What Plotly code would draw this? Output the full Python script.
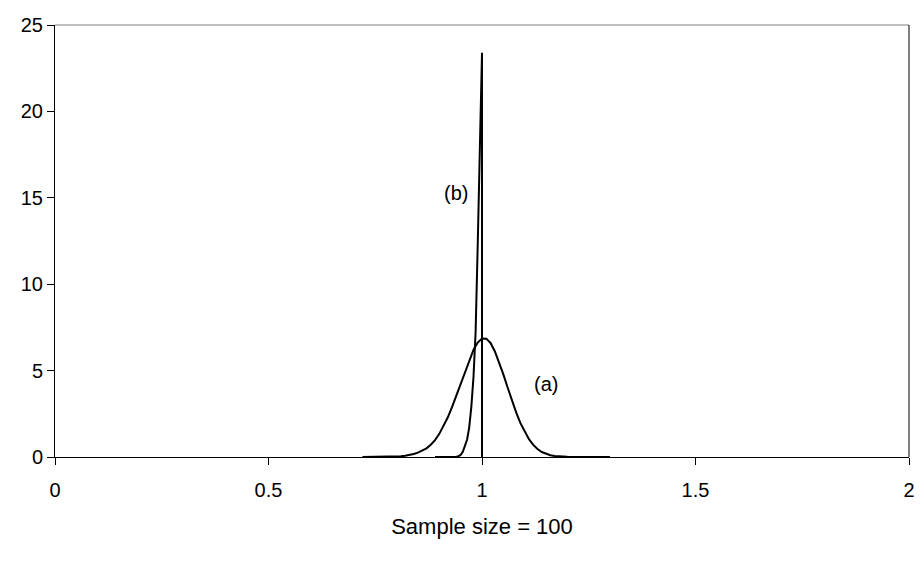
import plotly.graph_objects as go

# Curve (a)
a_x = [0.72, 0.73, 0.74, 0.75, 0.76, 0.77, 0.78, 0.79, 0.80, 0.81,
       0.82, 0.83, 0.84, 0.85, 0.86, 0.87, 0.88, 0.89, 0.90, 0.91,
       0.92, 0.93, 0.94, 0.95, 0.96, 0.97, 0.98, 0.99, 1.00, 1.01,
       1.02, 1.03, 1.04, 1.05, 1.06, 1.07, 1.08, 1.09, 1.10, 1.11,
       1.12, 1.13, 1.14, 1.15, 1.16, 1.17, 1.18, 1.19, 1.20, 1.21,
       1.22, 1.23, 1.24, 1.25, 1.26, 1.27, 1.28, 1.29, 1.30]
a_y = [0, 0, 0, 0, 0, 0, 0, 0, 0.02, 0.04,
       0.07, 0.11, 0.17, 0.25, 0.36, 0.5, 0.71, 0.98, 1.34, 1.78,
       2.3, 2.9, 3.55, 4.25, 4.95, 5.6, 6.2, 6.62, 6.86, 6.85,
       6.6, 6.12, 5.5, 4.78, 4.02, 3.28, 2.58, 1.96, 1.45, 1.03,
       0.7, 0.46, 0.29, 0.18, 0.1, 0.06, 0.03, 0.015, 0.01, 0,
       0, 0, 0, 0, 0, 0, 0, 0, 0]

# Curve (b) (drops to zero at 1.0)
b_x = [0.89, 0.90, 0.91, 0.92, 0.93, 0.94, 0.945, 0.95, 0.955, 0.96,
       0.965, 0.97, 0.975, 0.98, 0.985, 0.99, 0.995, 1.00, 1.00]
b_y = [0, 0, 0, 0, 0, 0.02, 0.05, 0.12, 0.3, 0.6,
       1.0, 1.7, 2.9, 4.6, 7.2, 12.3, 17.8, 23.4, 0]

x_ticks = [0, 0.5, 1, 1.5, 2]
x_tick_labels = ["0", "0.5", "1", "1.5", "2"]
y_ticks = [0, 5, 10, 15, 20, 25]

labels = ["(a)", "(b)"]
label_x = [1.15, 0.94]
label_y = [4.2, 15.3]

FONT = "Liberation Sans, Arial, sans-serif"
FS = 20

fig = go.Figure()
fig.add_trace(go.Scatter(x=a_x, y=a_y, mode="lines",
                         line=dict(color="black", width=2), showlegend=False))
fig.add_trace(go.Scatter(x=b_x, y=b_y, mode="lines",
                         line=dict(color="black", width=2), showlegend=False))

for t, lx, ly in zip(labels, label_x, label_y):
    fig.add_annotation(x=lx, y=ly, text=t, showarrow=False,
                       font=dict(family=FONT, size=FS, color="black"))

# frame: top line grey, right line black
fig.add_shape(type="line", xref="paper", yref="paper", x0=0, x1=1, y0=1, y1=1,
              line=dict(color="#808080", width=1))
fig.add_shape(type="line", xref="paper", yref="paper", x0=1, x1=1, y0=0, y1=1,
              line=dict(color="black", width=1))

# the page body has an 8px margin; size the figure so it fits the window
fig.update_layout(
    width=906, height=545,
    margin=dict(l=47, r=5, t=17, b=96),
    paper_bgcolor="white", plot_bgcolor="white",
    font=dict(family=FONT, size=FS, color="black"),
    xaxis=dict(range=[0, 2], tickvals=x_ticks, ticktext=x_tick_labels,
               showline=True, linecolor="black", linewidth=1, mirror=False,
               ticks="outside", ticklen=7, tickcolor="black",
               showgrid=False, zeroline=False, ticklabelstandoff=8,
               ticklabeloverflow="allow", automargin=False,
               title=dict(text="Sample size = 100", standoff=18,
                          font=dict(family=FONT, size=22))),
    yaxis=dict(range=[0, 25], tickvals=y_ticks,
               showline=True, linecolor="black", linewidth=1, mirror=False,
               ticks="outside", ticklen=7, tickcolor="black",
               showgrid=False, zeroline=False, automargin=False),
)

fig.write_html("out.html")
